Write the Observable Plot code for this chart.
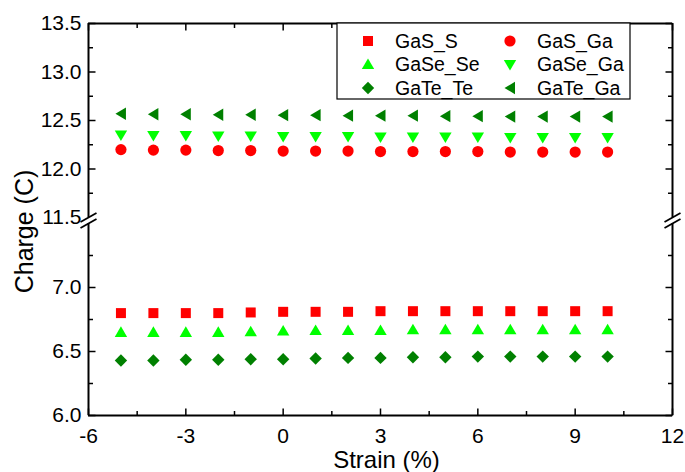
<!DOCTYPE html>
<html>
<head>
<meta charset="utf-8">
<script src="https://cdn.jsdelivr.net/npm/d3@7"></script>
<script src="https://cdn.jsdelivr.net/npm/@observablehq/plot@0.6"></script>
<style>
  body { margin: 0; background: #fff; }
  #chart { position: relative; width: 685px; height: 472px; }
  svg { font-family: "Liberation Sans", Arial, sans-serif; }
</style>
</head>
<body>
<div id="chart"></div>
<script>
// ---- data ----
const strain = [-5, -4, -3, -2, -1, 0, 1, 2, 3, 4, 5, 6, 7, 8, 9, 10];
const gasS    = [6.80, 6.80, 6.80, 6.80, 6.805, 6.81, 6.81, 6.81, 6.815, 6.815, 6.815, 6.815, 6.815, 6.815, 6.815, 6.815];
const gaseSe  = [6.65, 6.65, 6.65, 6.65, 6.655, 6.66, 6.665, 6.665, 6.665, 6.67, 6.67, 6.67, 6.67, 6.67, 6.67, 6.67];
const gateTe  = [6.43, 6.43, 6.435, 6.435, 6.44, 6.44, 6.445, 6.45, 6.45, 6.455, 6.455, 6.46, 6.46, 6.46, 6.46, 6.46];
const gasGa   = [12.20, 12.195, 12.195, 12.19, 12.19, 12.185, 12.185, 12.185, 12.18, 12.18, 12.18, 12.18, 12.175, 12.175, 12.175, 12.175];
const gaseGa  = [12.35, 12.345, 12.345, 12.34, 12.34, 12.335, 12.335, 12.335, 12.33, 12.33, 12.33, 12.33, 12.325, 12.325, 12.325, 12.325];
const gateGa  = [12.57, 12.565, 12.565, 12.56, 12.56, 12.555, 12.555, 12.55, 12.55, 12.55, 12.545, 12.545, 12.54, 12.54, 12.54, 12.54];

const seriesNames = ["GaS_S", "GaS_Ga", "GaSe_Se", "GaSe_Ga", "GaTe_Te", "GaTe_Ga"];
const seriesValues = [gasS, gasGa, gaseSe, gaseGa, gateTe, gateGa];
const seriesColors = ["#ff0000", "#ff0000", "#00ff00", "#00ff00", "#008000", "#008000"];

const xMajor = [-6, -3, 0, 3, 6, 9, 12];
const xMinor = [-4.5, -1.5, 1.5, 4.5, 7.5, 10.5];
const yMajor = [6.0, 6.5, 7.0, 11.5, 12.0, 12.5, 13.0, 13.5];
const yMinor = [6.25, 6.75, 7.25, 11.75, 12.25, 12.75, 13.25];

// ---- broken axis: two segments ----
const lowSeg = [6.0, 7.5], highSeg = [11.5, 13.5];
const lowLen = 192, gapLen = 6, highLen = 194;
function brk(v) {
  if (v <= 9) return (v - lowSeg[0]) / (lowSeg[1] - lowSeg[0]) * lowLen;
  return lowLen + gapLen + (v - highSeg[0]) / (highSeg[1] - highSeg[0]) * highLen;
}
const yTotal = lowLen + gapLen + highLen;

// ---- symbols ----
const sym = (f) => ({draw(ctx) { f(ctx); }});
const poly = (pts) => sym((c) => { c.moveTo(...pts[0]); for (const p of pts.slice(1)) c.lineTo(...p); c.closePath(); });
const shapes = {
  "GaS_S": poly([[-5, -5], [5, -5], [5, 5], [-5, 5]]),
  "GaS_Ga": sym((c) => { c.moveTo(5.6, 0); c.arc(0, 0, 5.6, 0, 2 * Math.PI); }),
  "GaSe_Se": poly([[0, -6], [6.2, 4.6], [-6.2, 4.6]]),
  "GaSe_Ga": poly([[-6.2, -4.6], [6.2, -4.6], [0, 6]]),
  "GaTe_Te": poly([[0, -6.2], [6.2, 0], [0, 6.2], [-6.2, 0]]),
  "GaTe_Ga": poly([[-5.5, 0], [5, -6.2], [5, 6.2]])
};
const seg = (x1, y1, x2, y2) => sym((c) => { c.moveTo(x1, y1); c.lineTo(x2, y2); });

const rows = [];
seriesNames.forEach((name, i) => {
  strain.forEach((x, j) => rows.push({series: name, x, v: seriesValues[i][j]}));
});

const AX = "#000";
const marks = [];
// frame
marks.push(Plot.ruleY([6.0], {y: brk, stroke: AX, strokeWidth: 2}));
marks.push(Plot.ruleY([13.5], {y: brk, stroke: AX, strokeWidth: 1.8}));
for (const xv of [-6, 12]) {
  marks.push(Plot.ruleX([xv], {y1: brk(lowSeg[0]), y2: brk(lowSeg[1]), stroke: AX, strokeWidth: 2}));
  marks.push(Plot.ruleX([xv], {y1: brk(highSeg[0]), y2: brk(highSeg[1]), stroke: AX, strokeWidth: 2}));
}
// break marks
for (const fa of ["left", "right"]) {
  marks.push(Plot.dot([lowSeg[1], highSeg[0]], {y: brk, frameAnchor: fa, symbol: seg(-8, 4.5, 8, -4.5), stroke: AX, strokeWidth: 1.8, fill: "none", r: 5}));
}
// ticks (inward)
const tk = (list, opts, s) => Plot.dot(list, {...opts, symbol: s, stroke: AX, strokeWidth: 1.5, fill: "none", r: 3});
marks.push(tk(yMajor.filter(v => v !== 11.5), {y: brk, frameAnchor: "left"}, seg(0, 0, 7, 0)));
marks.push(tk(yMinor, {y: brk, frameAnchor: "left"}, seg(0, 0, 4.5, 0)));
marks.push(tk(yMajor.filter(v => v !== 11.5), {y: brk, frameAnchor: "right"}, seg(0, 0, -7, 0)));
marks.push(tk(yMinor, {y: brk, frameAnchor: "right"}, seg(0, 0, -4.5, 0)));
marks.push(tk(xMajor, {x: d => d, frameAnchor: "bottom"}, seg(0, 0, 0, -7)));
marks.push(tk(xMinor, {x: d => d, frameAnchor: "bottom"}, seg(0, 0, 0, -4.5)));
marks.push(tk(xMajor, {x: d => d, frameAnchor: "top"}, seg(0, 0, 0, 7)));
marks.push(tk(xMinor, {x: d => d, frameAnchor: "top"}, seg(0, 0, 0, 4.5)));
// tick labels
marks.push(Plot.text(yMajor, {y: brk, frameAnchor: "left", text: d => d.toFixed(1), textAnchor: "end", lineAnchor: "middle", dx: -7, fontSize: 21}));
marks.push(Plot.text(xMajor, {x: d => d, frameAnchor: "bottom", text: d => String(d), lineAnchor: "middle", textAnchor: "middle", dy: 21, fontSize: 21}));
// axis titles
marks.push(Plot.text(["Strain (%)"], {text: d => d, frameAnchor: "bottom", lineAnchor: "middle", textAnchor: "middle", dy: 45, dx: 6, fontSize: 24}));
marks.push(Plot.text(["Charge (C)"], {text: d => d, frameAnchor: "left", lineAnchor: "middle", textAnchor: "middle", rotate: -90, dx: -64, dy: 12, fontSize: 25}));
// data
seriesNames.forEach((name, i) => {
  marks.push(Plot.dot(rows.filter(r => r.series === name), {x: "x", y: d => brk(d.v), symbol: shapes[name], fill: seriesColors[i], stroke: "none", r: 5}));
});

const chart = Plot.plot({
  width: 685, height: 472,
  marginLeft: 88, marginRight: 13, marginTop: 23, marginBottom: 57,
  style: {background: "#fff", overflow: "visible", fontFamily: "'Liberation Sans', Arial, sans-serif"},
  x: {domain: [-6, 12], axis: null},
  y: {domain: [0, yTotal], axis: null},
  marks
});
document.getElementById("chart").appendChild(chart);

// ---- legend ----
const svg = d3.select(chart);
const lg = svg.append("g").attr("font-family", "'Liberation Sans', Arial, sans-serif").attr("font-size", 19.5).attr("text-anchor", "start");
lg.append("rect").attr("x", 337).attr("y", 23).attr("width", 293).attr("height", 76)
  .attr("fill", "#fff").attr("stroke", "#000").attr("stroke-width", 1.2);
const colX = [368, 510], textX = [395, 537], rowY = [41, 64.5, 88];
seriesNames.forEach((name, i) => {
  const c = i % 2, r = Math.floor(i / 2);
  const p = d3.path();
  shapes[name].draw(p);
  lg.append("path").attr("d", p.toString()).attr("transform", `translate(${colX[c]},${rowY[r]})`).attr("fill", seriesColors[i]);
  lg.append("text").attr("x", textX[c]).attr("y", rowY[r]).attr("dy", "0.35em").attr("text-anchor", "start").attr("fill", "#000").text(name);
});
</script>
</body>
</html>
